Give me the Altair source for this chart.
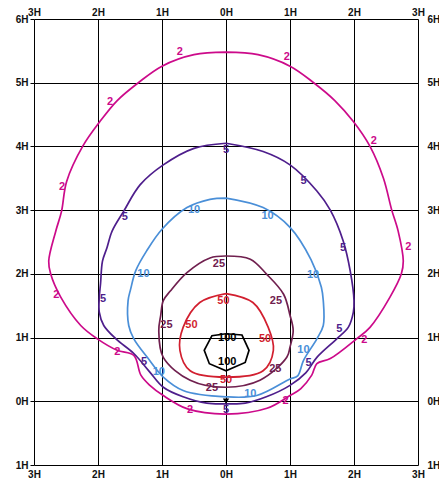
import altair as alt
import pandas as pd

levels = ["2", "5", "10", "25", "50", "100"]
colors = ["#CC0A8A", "#4E1E8C", "#4A8FD8", "#70204F", "#D21F2F", "#000000"]

# contour polylines (units of mounting height H)
c2_x = [0, 0.5, 1.0, 1.37, 1.7, 1.99, 2.25, 2.46, 2.59, 2.69, 2.77, 2.74, 2.56, 2.25, 2.04, 1.63, 1.42, 1.34, 1.17, 1.0, 0.64, 0,
        -0.6, -0.98, -1.19, -1.33, -1.44, -1.70, -2.01, -2.27, -2.58, -2.74, -2.77, -2.66, -2.57, -2.49, -2.24, -1.97, -1.7, -1.37, -1.0, -0.5, 0]
c2_y = [5.48, 5.44, 5.26, 5.0, 4.72, 4.39, 4.0, 3.5, 3.0, 2.67, 2.2, 2.0, 1.63, 1.16, 0.98, 0.67, 0.59, 0.41, 0.2, 0.09, -0.11, -0.2,
        -0.12, 0.09, 0.25, 0.41, 0.72, 0.80, 0.98, 1.19, 1.63, 2.0, 2.2, 2.67, 2.98, 3.45, 4.0, 4.39, 4.72, 5.0, 5.26, 5.44, 5.48]

c5_x = [0, 0.58, 1.0, 1.42, 1.63, 1.83, 1.94, 2.0, 1.99, 1.91, 1.73, 1.42, 1.25, 1.0, 0.63, 0.3, 0, -0.3, -0.67, -0.98, -1.2,
        -1.44, -1.72, -1.91, -1.98, -1.98, -1.96, -1.93, -1.86, -1.78, -1.60, -1.34, -0.98, -0.5, 0]
c5_y = [4.05, 3.92, 3.71, 3.30, 3.0, 2.52, 2.05, 1.58, 1.40, 1.16, 0.98, 0.69, 0.45, 0.25, 0.07, -0.03, -0.04, -0.03, 0.07, 0.22, 0.47,
        0.75, 0.98, 1.19, 1.40, 1.63, 1.85, 2.20, 2.41, 2.67, 2.98, 3.40, 3.71, 3.97, 4.05]

c10_x = [0, 0.58, 1.0, 1.33, 1.49, 1.52, 1.52, 1.42, 1.21, 1.12, 1.0, 0.48, 0, -0.67, -0.98, -1.23, -1.44, -1.52, -1.53, -1.49,
         -1.41, -1.24, -1.0, -0.61, -0.25, 0]
c10_y = [3.19, 3.04, 2.73, 2.22, 1.79, 1.58, 1.19, 0.98, 0.64, 0.40, 0.35, 0.09, 0.07, 0.17, 0.38, 0.69, 0.98, 1.19, 1.58, 1.76,
         2.05, 2.36, 2.70, 3.04, 3.17, 3.19]

c25_x = [0, 0.38, 0.63, 0.90, 1.0, 1.05, 1.0, 0.95, 0.53, 0, -0.56, -0.98, -1.05, -1.02, -0.98, -0.87, -0.61, -0.25, 0]
c25_y = [2.28, 2.23, 2.0, 1.68, 1.35, 1.11, 0.85, 0.69, 0.33, 0.22, 0.33, 0.69, 1.11, 1.35, 1.58, 1.73, 2.02, 2.25, 2.28]

c50_x = [0, 0.42, 0.66, 0.74, 0.58, 0, -0.56, -0.72, -0.67, -0.41, 0]
c50_y = [1.69, 1.55, 1.16, 0.80, 0.48, 0.38, 0.48, 0.80, 1.16, 1.55, 1.69]

c100_x = [0, 0.25, 0.36, 0.30, 0, -0.26, -0.34, -0.22, 0]
c100_y = [1.06, 1.04, 0.80, 0.61, 0.48, 0.59, 0.80, 1.03, 1.06]

# contour value labels
l2_x = [-0.72, 0.95, -1.81, 2.31, -2.56, 2.85, -2.65, -1.70, 2.16, -0.56, 0.93]
l2_y = [5.48, 5.41, 4.70, 4.08, 3.36, 2.42, 1.67, 0.77, 0.96, -0.14, 0.0]
l5_x = [0, 1.21, -1.58, 1.83, -1.92, 1.77, -1.28, 1.29, 0]
l5_y = [3.94, 3.46, 2.90, 2.41, 1.60, 1.14, 0.61, 0.60, -0.14]
l10_x = [-0.5, 0.65, -1.29, 1.36, -1.05, 1.21, 0.38]
l10_y = [3.0, 2.91, 2.0, 1.98, 0.46, 0.80, 0.11]
l25_x = [-0.11, 0.78, -0.93, 0.77, -0.22]
l25_y = [2.16, 1.58, 1.19, 0.51, 0.21]
l50_x = [-0.04, -0.54, 0.61, 0]
l50_y = [1.58, 1.19, 0.98, 0.34]
l100_x = [0.02, 0.02]
l100_y = [0.99, 0.61]

x_ticks = [-3, -2, -1, 0, 1, 2, 3]
y_ticks = [-1, 0, 1, 2, 3, 4, 5, 6]
source_x = [0]
source_y = [0]

smooth_levels = ["2", "5", "10", "25", "50"]
contours = {"2": (c2_x, c2_y), "5": (c5_x, c5_y), "10": (c10_x, c10_y),
            "25": (c25_x, c25_y), "50": (c50_x, c50_y), "100": (c100_x, c100_y)}
labels = {"2": (l2_x, l2_y), "5": (l5_x, l5_y), "10": (l10_x, l10_y),
          "25": (l25_x, l25_y), "50": (l50_x, l50_y), "100": (l100_x, l100_y)}

rows = []
for lv, (xs, ys) in contours.items():
    for i, (a, b) in enumerate(zip(xs, ys)):
        rows.append({"level": lv, "idx": i, "x": a, "y": b, "smooth": lv in smooth_levels})
df_lines = pd.DataFrame(rows)

lrows = []
for lv, (xs, ys) in labels.items():
    for a, b in zip(xs, ys):
        lrows.append({"level": lv, "x": a, "y": b})
df_labels = pd.DataFrame(lrows)

df_src = pd.DataFrame({"x": source_x, "y": source_y})

FONT = "Liberation Sans"
xscale = alt.Scale(domain=[-3, 3], nice=False, zero=False)
yscale = alt.Scale(domain=[-1, 6], nice=False, zero=False)
lab = "abs(datum.value) + 'H'"
common = dict(labelExpr=lab, labelFont=FONT, labelFontWeight="bold", labelFontSize=10,
              labelColor="#111111", title=None, domain=False, labelFlush=False, labelOverlap=False)

bottom_axis = alt.Axis(orient="bottom", values=x_ticks, grid=True, gridColor="#000000", gridWidth=1,
                       gridOpacity=1, ticks=False, tickSize=0, labelPadding=4, **common)
left_axis = alt.Axis(orient="left", values=y_ticks, grid=True, gridColor="#000000", gridWidth=1,
                     gridOpacity=1, ticks=True, tickSize=4, tickColor="#000000", labelPadding=2, **common)
top_axis = alt.Axis(orient="top", values=x_ticks, grid=False, ticks=False, tickSize=0, labelPadding=2, **common)
right_axis = alt.Axis(orient="right", values=y_ticks, grid=False, ticks=False, tickSize=0, labelPadding=9, **common)

color = alt.Color("level:N", scale=alt.Scale(domain=levels, range=colors), legend=None)

lines_smooth = alt.Chart(df_lines).transform_filter("datum.smooth").mark_line(
    strokeWidth=1.7, clip=False, interpolate="catmull-rom").encode(
    x=alt.X("x:Q", scale=xscale, axis=bottom_axis),
    y=alt.Y("y:Q", scale=yscale, axis=left_axis),
    color=color,
    order="idx:Q",
)

lines_poly = alt.Chart(df_lines).transform_filter("!datum.smooth").mark_line(
    strokeWidth=1.7, clip=False).encode(
    x=alt.X("x:Q", scale=xscale, axis=None),
    y=alt.Y("y:Q", scale=yscale, axis=None),
    color=color,
    order="idx:Q",
)

src = alt.Chart(df_src).mark_point(shape="triangle-down", filled=True, size=40, color="#000000", opacity=1).encode(
    x=alt.X("x:Q", scale=xscale, axis=None),
    y=alt.Y("y:Q", scale=yscale, axis=None),
)

texts = alt.Chart(df_labels).mark_text(font=FONT, fontWeight="bold", fontSize=11).encode(
    x=alt.X("x:Q", scale=xscale, axis=top_axis),
    y=alt.Y("y:Q", scale=yscale, axis=right_axis),
    text="level:N",
    color=color,
)

chart = alt.layer(lines_smooth, lines_poly, src, texts).resolve_axis(x="independent", y="independent").properties(
    width=384, height=446,
    padding={"left": 26, "top": 11, "right": 21, "bottom": 14},
    autosize=alt.AutoSizeParams(type="none"),
    background="white",
).configure_view(stroke=None)

chart.save("out.html", embed_options={"renderer": "svg", "actions": False})
